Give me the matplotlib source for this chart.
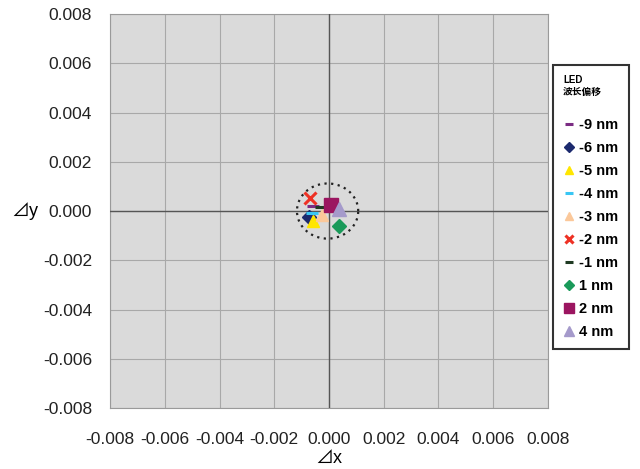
import numpy as np
import matplotlib.pyplot as plt

plt.rcParams['font.family'] = ['Liberation Sans', 'Noto Sans CJK SC', 'DejaVu Sans']

# данные: смещение по x и y для каждого сдвига длины волны
labels = ['-9 nm', '-6 nm', '-5 nm', '-4 nm', '-3 nm', '-2 nm', '-1 nm', '1 nm', '2 nm', '4 nm']
dx = [-0.00058, -0.00073, -0.00058, -0.00062, -0.00026, -0.00069, -0.00030, 0.00037, 0.00007, 0.00037]
dy = [0.00020, -0.00024, -0.00040, -0.00008, -0.00016, 0.00053, 0.00016, -0.00061, 0.00024, 0.00008]
markers = ['_', 'D', '^', '_', '^', 'x', '_', 'D', 's', '^']
colors = ['#7b2c83', '#1c2a6e', '#ffe600', '#38c6f4', '#fbc89a', '#ee3124',
          '#1f3a22', '#1a9a5a', '#9b1560', '#a59acb']
sizes = [8, 7, 9, 8, 9, 8, 8, 7, 10, 10]

# пунктирный круг
circle_center = (-0.00005, 0.0)
circle_radius = 0.00112

ticks = [-0.008, -0.006, -0.004, -0.002, 0.0, 0.002, 0.004, 0.006, 0.008]

fig = plt.figure(figsize=(6.4, 4.69), dpi=100)
ax = fig.add_axes([0.172, 0.130, 0.684, 0.840])
ax.set_facecolor('#dadada')

for i in range(len(labels)):
    mew = 2.2 if markers[i] in ('_', 'x') else 1
    ax.plot(dx[i], dy[i], linestyle='none', marker=markers[i], color=colors[i],
            markersize=sizes[i], markeredgewidth=mew, label=labels[i], zorder=5)

t = np.linspace(0, 2 * np.pi, 200)
ax.plot(circle_center[0] + circle_radius * np.cos(t),
        circle_center[1] + circle_radius * np.sin(t),
        linestyle=(0, (1, 2.0)), color='#222222', linewidth=1.6, zorder=4)

ax.axhline(0, color='#555555', linewidth=1.0, zorder=3)
ax.axvline(0, color='#555555', linewidth=1.0, zorder=3)

ax.set_xlim(-0.008, 0.008)
ax.set_ylim(-0.008, 0.008)
ax.set_xticks(ticks)
ax.set_yticks(ticks)
ax.set_xticklabels(['%.3f' % v for v in ticks])
ax.set_yticklabels(['%.3f' % v for v in ticks])
ax.tick_params(length=0, labelsize=12.5, colors='#222222')
ax.tick_params(axis='y', pad=13)
ax.tick_params(axis='x', pad=17)
ax.grid(True, color='#a8a8a8', linewidth=0.8)
ax.set_axisbelow(True)
for s in ax.spines.values():
    s.set_color('#9a9a9a')

# подписи осей
fig.text(0.514, 0.022, '⊿x', fontsize=13, ha='center', va='center')
fig.text(0.018, 0.55, '⊿y', fontsize=13, ha='left', va='center')

leg = ax.legend(title='LED\n波长偏移\n', loc='upper left', bbox_to_anchor=(0.864, 0.861),
                bbox_transform=fig.transFigure, frameon=True, fancybox=False,
                edgecolor='black', fontsize=10.5, title_fontsize=7, handlelength=0.8,
                handletextpad=0.3, labelspacing=0.62, borderpad=0.7, markerscale=0.7,
                borderaxespad=0)
leg.get_frame().set_linewidth(1.5)
leg._legend_box.align = 'left'
for txt in leg.get_texts():
    txt.set_fontweight('bold')
leg.get_title().set_fontweight('bold')

fig.savefig('out.png', dpi=100)
